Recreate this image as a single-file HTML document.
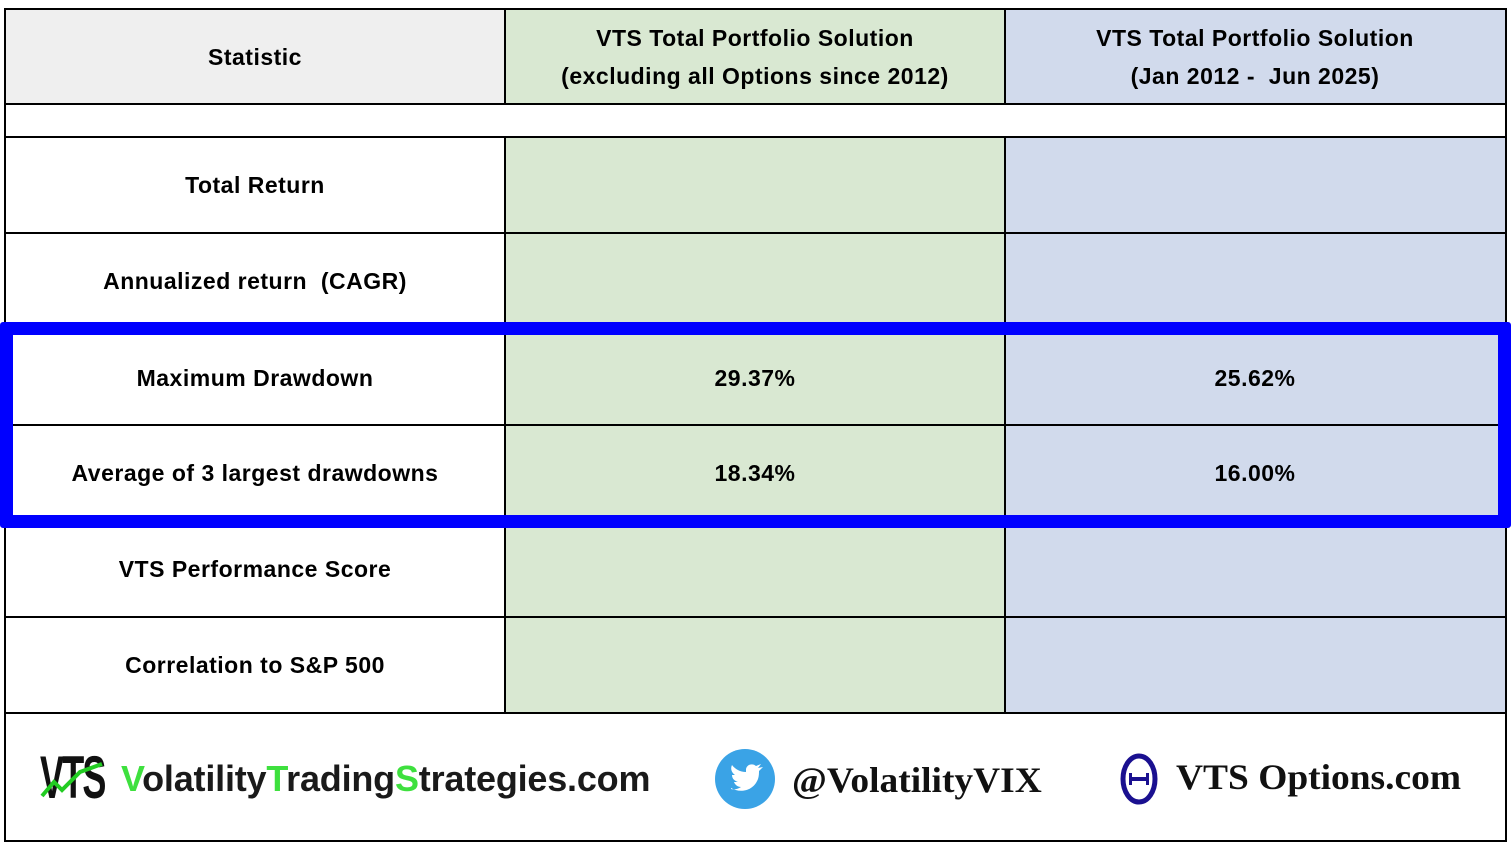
<!DOCTYPE html>
<html><head><meta charset="utf-8"><style>
body{margin:0;width:1511px;height:850px;background:#fff;position:relative;overflow:hidden;font-family:"Liberation Sans",Arial,sans-serif;}
.c{position:absolute;display:flex;align-items:center;justify-content:center;text-align:center;font-weight:bold;font-size:23px;color:#000;line-height:38px;box-sizing:border-box;letter-spacing:0.5px;}
.h{position:absolute;background:#000;height:2px;}
.v{position:absolute;background:#000;width:2px;}
.g{background:#d9e8d2}.b{background:#d1daec}.gr{background:#efefef}
</style></head><body>
<div class="c gr" style="left:5px;top:10px;width:500px;height:94px">Statistic</div>
<div class="c g" style="left:505px;top:10px;width:500px;height:94px">VTS Total Portfolio Solution<br>(excluding all Options since 2012)</div>
<div class="c b" style="left:1005px;top:10px;width:500px;height:94px">VTS Total Portfolio Solution<br>(Jan 2012 -&nbsp; Jun 2025)</div>

<div class="c" style="left:5px;top:137px;width:500px;height:96px">Total Return</div>
<div class="c g" style="left:505px;top:137px;width:500px;height:96px"></div>
<div class="c b" style="left:1005px;top:137px;width:500px;height:96px"></div>
<div class="c" style="left:5px;top:233px;width:500px;height:96px">Annualized return&nbsp; (CAGR)</div>
<div class="c g" style="left:505px;top:233px;width:500px;height:96px"></div>
<div class="c b" style="left:1005px;top:233px;width:500px;height:96px"></div>
<div class="c" style="left:5px;top:329px;width:500px;height:96px;padding-top:2px">Maximum Drawdown</div>
<div class="c g" style="left:505px;top:329px;width:500px;height:96px;padding-top:2px">29.37%</div>
<div class="c b" style="left:1005px;top:329px;width:500px;height:96px;padding-top:2px">25.62%</div>
<div class="c" style="left:5px;top:425px;width:500px;height:96px">Average of 3 largest drawdowns</div>
<div class="c g" style="left:505px;top:425px;width:500px;height:96px">18.34%</div>
<div class="c b" style="left:1005px;top:425px;width:500px;height:96px">16.00%</div>
<div class="c" style="left:5px;top:521px;width:500px;height:96px">VTS Performance Score</div>
<div class="c g" style="left:505px;top:521px;width:500px;height:96px"></div>
<div class="c b" style="left:1005px;top:521px;width:500px;height:96px"></div>
<div class="c" style="left:5px;top:617px;width:500px;height:96px">Correlation to S&amp;P 500</div>
<div class="c g" style="left:505px;top:617px;width:500px;height:96px"></div>
<div class="c b" style="left:1005px;top:617px;width:500px;height:96px"></div>

<div class="h" style="left:4px;top:8px;width:1503px"></div>
<div class="h" style="left:4px;top:103px;width:1503px"></div>
<div class="h" style="left:4px;top:136px;width:1503px"></div>
<div class="h" style="left:4px;top:232px;width:1503px"></div>
<div class="h" style="left:4px;top:424px;width:1503px"></div>
<div class="h" style="left:4px;top:616px;width:1503px"></div>
<div class="h" style="left:4px;top:712px;width:1503px"></div>
<div class="h" style="left:4px;top:840px;width:1503px"></div>
<div class="v" style="left:4px;top:8px;height:834px"></div>
<div class="v" style="left:1505px;top:8px;height:834px"></div>
<div class="v" style="left:504px;top:8px;height:96px"></div>
<div class="v" style="left:1004px;top:8px;height:96px"></div>
<div class="v" style="left:504px;top:136px;height:578px"></div>
<div class="v" style="left:1004px;top:136px;height:578px"></div>

<div style="position:absolute;left:0;top:322px;width:1511px;height:206px;border:13px solid #0000ff;box-sizing:border-box;border-radius:3px"></div>

<div style="position:absolute;left:40px;top:748px;height:60px;font:bold 60px/60px 'Liberation Sans Narrow','Liberation Sans',sans-serif;letter-spacing:-3px;color:#111;transform:scaleX(0.6);transform-origin:left">VTS</div>
<svg style="position:absolute;left:40px;top:760px" width="70" height="40"><polyline points="2,36 14,22 22,30 40,12 62,4" fill="none" stroke="#22cc22" stroke-width="4"/></svg>
<div style="position:absolute;left:121px;top:758px;font:bold 36px/42px 'Liberation Sans',sans-serif;color:#1a1a1a;letter-spacing:-0.2px"><span style="color:#3ee03e">V</span>olatility<span style="color:#3ee03e">T</span>rading<span style="color:#3ee03e">S</span>trategies.com</div>

<svg style="position:absolute;left:714px;top:748px" width="62" height="62"><circle cx="31" cy="31" r="30" fill="#3aa3e6"/><path d="M17 40c8 5 22 4 27-9 1-3 1-6 1-8l4-4-5 1 3-4-5 2c-3-3-9-2-10 3v3c-6 0-11-3-14-7-2 4 0 8 3 10h-3c0 4 3 6 6 7h-4c1 3 4 5 7 5-3 2-7 3-10 2z" fill="#fff"/></svg>
<div style="position:absolute;left:792px;top:758px;font:bold 36px/44px 'Liberation Serif',serif;color:#111;transform:scaleX(1.04);transform-origin:left">@VolatilityVIX</div>

<svg style="position:absolute;left:1116px;top:753px" width="46" height="52"><ellipse cx="23" cy="26" rx="16" ry="23" fill="none" stroke="#1a1090" stroke-width="5"/><rect x="13" y="24" width="20" height="4" fill="#1a1090"/><rect x="13" y="20" width="3" height="12" fill="#1a1090"/><rect x="30" y="20" width="3" height="12" fill="#1a1090"/></svg>
<div style="position:absolute;left:1176px;top:755px;font:bold 36px/44px 'Liberation Serif',serif;color:#111;transform:scaleX(1.04);transform-origin:left">VTS Options.com</div>
</body></html>
